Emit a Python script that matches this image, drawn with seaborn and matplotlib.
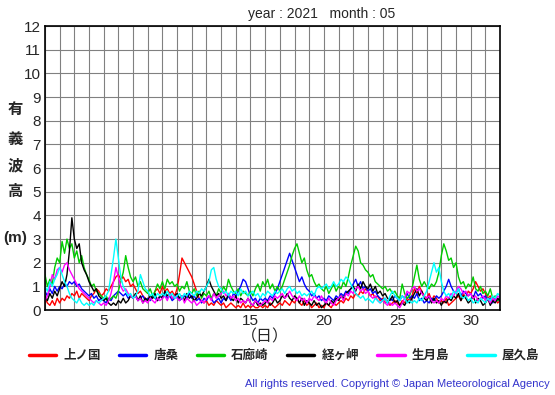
import numpy as np
import pandas as pd
import matplotlib
matplotlib.use('Agg')
import matplotlib.pyplot as plt
from matplotlib.lines import Line2D
import seaborn as sns

# station names and colours
stations = ['上ノ国', '唐桑', '石廊崎', '経ヶ岬', '生月島', '屋久島']
colors = ['#ff0000', '#0000ff', '#00cc00', '#000000', '#ff00ff', '#00ffff']

# significant wave height (m), 4-hourly, one row per day of May 2021
kaminokuni = [
    [0.5, 0.3, 0.2, 0.4, 0.2, 0.5], [0.3, 0.5, 0.4, 0.6, 0.5, 0.7], [0.6, 0.8, 0.5, 0.7, 0.6, 0.5],
    [0.4, 0.6, 0.7, 0.9, 0.8, 0.6], [0.7, 0.9, 0.8, 1.0, 1.2, 1.4], [1.5, 1.3, 1.4, 1.2, 1.3, 1.0],
    [1.1, 0.9, 0.7, 0.8, 0.6, 0.5], [0.4, 0.6, 0.5, 0.8, 0.9, 0.7], [1.0, 0.8, 0.9, 0.7, 0.8, 0.6],
    [0.9, 1.5, 2.2, 2.0, 1.8, 1.6], [1.4, 1.1, 0.8, 0.5, 0.4, 0.3], [0.4, 0.2, 0.3, 0.2, 0.4, 0.3],
    [0.2, 0.3, 0.1, 0.2, 0.3, 0.2], [0.1, 0.2, 0.1, 0.3, 0.1, 0.2], [0.1, 0.2, 0.1, 0.1, 0.2, 0.1],
    [0.2, 0.1, 0.3, 0.2, 0.1, 0.2], [0.3, 0.2, 0.4, 0.3, 0.2, 0.4], [0.3, 0.5, 0.3, 0.2, 0.4, 0.2],
    [0.3, 0.1, 0.2, 0.3, 0.1, 0.2], [0.1, 0.3, 0.2, 0.1, 0.3, 0.2], [0.3, 0.4, 0.3, 0.5, 0.4, 0.6],
    [0.5, 0.7, 0.6, 0.8, 0.7, 0.9], [0.8, 0.6, 0.7, 0.5, 0.6, 0.4], [0.5, 0.3, 0.4, 0.2, 0.3, 0.4],
    [0.3, 0.2, 0.4, 0.3, 0.5, 0.4], [0.6, 0.9, 0.7, 1.0, 0.8, 0.6], [0.5, 0.7, 0.4, 0.6, 0.5, 0.3],
    [0.4, 0.3, 0.5, 0.2, 0.3, 0.4], [0.5, 0.6, 0.4, 0.7, 0.5, 0.8], [0.7, 0.9, 1.2, 1.0, 0.8, 0.9],
    [0.7, 0.5, 0.6, 0.4, 0.5, 0.3], [0.4]]

karakuwa = [
    [0.8, 0.6, 0.9, 0.7, 1.0, 0.8], [1.0, 0.9, 1.1, 1.0, 1.2, 1.1], [1.2, 1.0, 1.1, 0.9, 0.8, 0.7],
    [0.6, 0.7, 0.5, 0.6, 0.4, 0.5], [0.4, 0.3, 0.5, 0.4, 0.6, 0.7], [0.8, 0.7, 0.6, 0.7, 0.5, 0.6],
    [0.5, 0.6, 0.4, 0.5, 0.6, 0.4], [0.5, 0.4, 0.6, 0.5, 0.4, 0.6], [0.5, 0.7, 0.5, 0.6, 0.4, 0.5],
    [0.6, 0.4, 0.5, 0.6, 0.5, 0.7], [0.5, 0.6, 0.4, 0.5, 0.3, 0.5], [0.4, 0.6, 0.5, 0.3, 0.4, 0.5],
    [0.3, 0.5, 0.4, 0.6, 0.4, 0.7], [0.6, 0.8, 1.0, 1.3, 1.2, 0.9], [0.6, 0.4, 0.5, 0.3, 0.5, 0.4],
    [0.5, 0.4, 0.6, 0.5, 0.7, 0.9], [1.2, 1.5, 1.8, 2.1, 2.4, 2.1], [1.8, 1.5, 1.2, 1.4, 1.1, 0.9],
    [0.8, 0.6, 0.7, 0.5, 0.6, 0.4], [0.5, 0.4, 0.6, 0.5, 0.4, 0.6], [0.5, 0.7, 0.6, 0.8, 0.7, 0.9],
    [1.1, 1.3, 1.0, 1.2, 0.9, 1.0], [0.8, 0.9, 0.7, 0.8, 0.6, 0.5], [0.4, 0.5, 0.3, 0.5, 0.4, 0.6],
    [0.5, 0.4, 0.6, 0.5, 0.7, 0.5], [0.6, 0.5, 0.7, 0.4, 0.5, 0.3], [0.4, 0.3, 0.5, 0.4, 0.6, 0.5],
    [0.6, 0.8, 1.0, 1.3, 1.0, 0.8], [0.7, 0.9, 0.6, 0.8, 0.7, 0.6], [0.7, 0.5, 0.8, 0.6, 0.7, 0.5],
    [0.6, 0.4, 0.5, 0.3, 0.5, 0.4], [0.5]]

irozaki = [
    [1.5, 1.0, 1.3, 1.1, 1.8, 2.2], [2.0, 2.9, 2.4, 3.0, 2.6, 2.8], [2.2, 2.5, 2.0, 2.3, 1.8, 1.5],
    [1.3, 1.0, 1.1, 0.8, 0.7, 0.6], [0.5, 0.6, 0.4, 0.5, 0.6, 0.5], [0.8, 1.2, 1.6, 2.3, 1.8, 1.4],
    [1.2, 1.4, 1.0, 1.2, 0.9, 0.8], [0.7, 0.9, 0.6, 0.8, 1.1, 0.9], [1.2, 0.9, 1.3, 1.1, 1.2, 1.0],
    [1.1, 0.8, 1.0, 0.9, 1.2, 0.8], [0.7, 0.9, 0.6, 0.8, 0.5, 0.7], [0.6, 0.8, 0.5, 0.7, 0.6, 0.9],
    [0.7, 1.0, 0.8, 1.3, 1.0, 0.8], [0.7, 0.9, 0.6, 0.8, 0.7, 0.6], [0.8, 0.6, 0.9, 1.1, 0.8, 1.2],
    [1.0, 1.3, 0.9, 1.1, 0.8, 1.0], [0.8, 1.0, 1.3, 1.6, 1.9, 2.3], [2.6, 2.8, 2.4, 2.0, 2.2, 1.7],
    [1.4, 1.5, 1.2, 1.0, 1.1, 0.9], [0.8, 1.0, 0.7, 0.9, 1.1, 0.8], [1.0, 0.9, 1.2, 1.0, 1.4, 1.9],
    [2.3, 2.7, 2.5, 2.0, 1.9, 1.7], [1.6, 1.4, 1.5, 1.2, 1.1, 1.0], [0.9, 1.0, 0.8, 0.9, 0.7, 0.8],
    [0.6, 0.5, 1.1, 0.7, 0.5, 0.6], [0.9, 1.4, 1.9, 1.3, 1.0, 1.2], [1.0, 0.9, 1.1, 1.0, 1.2, 1.6],
    [2.3, 2.8, 2.5, 2.1, 2.2, 1.8], [2.0, 1.4, 1.1, 1.2, 0.9, 1.1], [1.0, 1.4, 0.9, 0.8, 1.0, 0.7],
    [0.8, 0.6, 0.9, 0.5, 0.6, 0.4], [0.5]]

kyogamisaki = [
    [0.6, 0.4, 0.7, 0.5, 0.8, 0.6], [0.9, 1.2, 1.0, 1.5, 2.5, 3.9], [3.0, 2.6, 2.8, 2.0, 1.7, 1.5],
    [1.2, 1.0, 0.8, 0.9, 0.6, 0.5], [0.4, 0.5, 0.3, 0.2, 0.3, 0.2], [0.4, 0.3, 0.5, 0.3, 0.4, 0.6],
    [0.5, 0.7, 0.4, 0.6, 0.3, 0.5], [0.4, 0.6, 0.5, 0.7, 0.4, 0.6], [0.5, 0.8, 0.6, 0.7, 0.5, 0.6],
    [0.7, 0.5, 0.6, 0.4, 0.7, 0.5], [0.6, 0.4, 0.5, 0.7, 0.6, 0.8], [1.0, 1.3, 1.0, 0.8, 0.6, 0.7],
    [0.5, 0.6, 0.4, 0.7, 0.5, 0.4], [0.6, 0.3, 0.5, 0.4, 0.3, 0.5], [0.3, 0.2, 0.4, 0.2, 0.3, 0.2],
    [0.3, 0.4, 0.2, 0.3, 0.5, 0.3], [0.4, 0.6, 0.5, 0.7, 0.5, 0.4], [0.6, 0.5, 0.3, 0.5, 0.2, 0.4],
    [0.3, 0.2, 0.4, 0.2, 0.3, 0.1], [0.2, 0.3, 0.2, 0.4, 0.3, 0.5], [0.4, 0.6, 0.5, 0.7, 0.8, 0.9],
    [1.0, 0.8, 1.1, 0.9, 1.2, 1.0], [0.9, 1.1, 0.8, 1.0, 0.7, 0.8], [0.6, 0.7, 0.5, 0.4, 0.6, 0.3],
    [0.4, 0.2, 0.3, 0.2, 0.4, 0.3], [0.5, 0.7, 0.9, 0.6, 0.8, 0.5], [0.4, 0.6, 0.3, 0.5, 0.3, 0.4],
    [0.2, 0.4, 0.3, 0.5, 0.4, 0.6], [0.5, 0.7, 0.4, 0.6, 0.5, 0.3], [0.4, 0.6, 0.3, 0.5, 0.4, 0.2],
    [0.3, 0.5, 0.2, 0.4, 0.3, 0.5], [0.4]]

ikitsukishima = [
    [0.4, 0.6, 1.0, 1.5, 1.3, 1.7], [1.8, 1.6, 1.9, 2.0, 1.7, 1.5], [1.3, 1.1, 0.9, 0.8, 0.7, 0.6],
    [0.5, 0.4, 0.3, 0.4, 0.3, 0.2], [0.3, 0.2, 0.4, 0.7, 1.2, 1.8], [1.4, 1.0, 0.8, 0.9, 0.7, 0.6],
    [0.5, 0.6, 0.4, 0.5, 0.3, 0.4], [0.3, 0.5, 0.4, 0.3, 0.5, 0.4], [0.5, 0.6, 0.4, 0.7, 0.5, 0.6],
    [0.5, 0.4, 0.6, 0.3, 0.5, 0.4], [0.3, 0.4, 0.2, 0.3, 0.4, 0.3], [0.5, 0.6, 0.4, 0.7, 0.5, 0.6],
    [0.7, 0.8, 0.6, 0.7, 0.5, 0.6], [0.4, 0.5, 0.3, 0.4, 0.3, 0.5], [0.3, 0.2, 0.4, 0.3, 0.2, 0.3],
    [0.4, 0.3, 0.5, 0.4, 0.6, 0.5], [0.6, 0.7, 0.5, 0.6, 0.8, 0.6], [0.5, 0.4, 0.6, 0.4, 0.5, 0.3],
    [0.5, 0.4, 0.6, 0.5, 0.4, 0.6], [0.4, 0.3, 0.5, 0.3, 0.2, 0.4], [0.5, 0.6, 0.4, 0.7, 0.6, 0.8],
    [0.7, 0.9, 1.0, 0.8, 0.9, 0.7], [0.8, 0.6, 0.5, 0.6, 0.4, 0.3], [0.4, 0.3, 0.2, 0.3, 0.2, 0.3],
    [0.2, 0.1, 0.3, 0.5, 0.8, 0.7], [0.9, 1.0, 0.8, 0.9, 0.7, 0.6], [0.5, 0.6, 0.4, 0.3, 0.4, 0.3],
    [0.5, 0.4, 0.6, 0.5, 0.7, 0.6], [0.8, 1.0, 0.9, 0.7, 0.8, 0.6], [0.7, 0.5, 0.6, 0.4, 0.5, 0.6],
    [0.4, 0.5, 0.3, 0.5, 0.4, 0.6], [0.5]]

yakushima = [
    [1.0, 0.8, 1.2, 1.0, 1.3, 1.5], [1.8, 1.5, 1.2, 1.0, 0.7, 0.5], [0.4, 0.3, 0.5, 0.3, 0.2, 0.3],
    [0.2, 0.3, 0.2, 0.4, 0.3, 0.4], [0.5, 0.6, 0.8, 1.5, 2.2, 3.0], [2.2, 1.4, 1.0, 0.8, 0.6, 0.7],
    [0.5, 0.6, 0.8, 1.5, 1.2, 0.9], [0.8, 0.6, 0.7, 0.5, 0.7, 0.6], [0.7, 0.6, 0.8, 0.6, 0.7, 0.5],
    [0.6, 0.7, 0.5, 0.7, 0.6, 0.8], [0.7, 0.6, 0.8, 0.7, 0.9, 0.8], [1.0, 1.2, 1.7, 1.8, 1.3, 1.0],
    [0.9, 0.7, 0.8, 0.6, 0.8, 0.7], [0.8, 0.6, 0.9, 0.7, 0.8, 0.6], [0.7, 0.8, 0.6, 0.7, 0.5, 0.7],
    [0.6, 0.8, 0.7, 0.6, 0.8, 0.7], [0.8, 0.9, 0.7, 0.9, 1.0, 0.8], [0.9, 0.7, 0.8, 0.6, 0.7, 0.6],
    [0.7, 0.8, 0.6, 0.9, 1.0, 0.9], [1.0, 1.1, 0.9, 1.0, 1.2, 1.0], [1.1, 1.3, 1.2, 1.4, 1.3, 1.1],
    [0.9, 0.7, 0.6, 0.5, 0.6, 0.4], [0.5, 0.4, 0.3, 0.5, 0.4, 0.3], [0.4, 0.5, 0.3, 0.6, 0.8, 0.6],
    [0.5, 0.4, 0.6, 0.5, 0.3, 0.4], [0.3, 0.4, 0.3, 0.5, 0.4, 0.6], [0.8, 1.2, 1.6, 2.0, 1.6, 1.8],
    [1.2, 0.8, 0.6, 0.7, 0.5, 0.8], [0.7, 0.9, 0.6, 0.5, 0.6, 0.4], [0.5, 0.3, 0.4, 0.3, 0.5, 0.4],
    [0.3, 0.5, 0.4, 0.6, 0.5, 0.7], [0.6]]

series = [kaminokuni, karakuwa, irozaki, kyogamisaki, ikitsukishima, yakushima]
steps_per_day = 6

# build long-form table
frames = []
for name, rows in zip(stations, series):
    vals = np.concatenate([np.array(r, dtype=float) for r in rows])
    day = 1 + np.arange(len(vals)) / steps_per_day
    frames.append(pd.DataFrame({'day': day, 'height': vals, 'station': name}))
df = pd.concat(frames, ignore_index=True)

sns.set_style('white')
plt.rcParams['font.family'] = ['Liberation Sans', 'Noto Sans CJK JP']

fig = plt.figure(figsize=(5.55, 3.95), dpi=100)
ax = fig.add_axes([0.081, 0.215, 0.820, 0.719])

sns.lineplot(data=df, x='day', y='height', hue='station', hue_order=stations,
             palette=colors, linewidth=1.0, legend=False, ax=ax, estimator=None)

ax.set_xlim(1, 32)
ax.set_ylim(0, 12)
ax.set_xticks(range(1, 33))
ax.set_xticklabels([str(d) if d % 5 == 0 else '' for d in range(1, 33)])
ax.set_yticks(range(0, 13))
ax.grid(True, color='#808080', linewidth=0.8)
ax.set_axisbelow(True)
ax.tick_params(length=0, labelsize=11, pad=3)
for s in ax.spines.values():
    s.set_color('black')
    s.set_linewidth(1.2)
ax.set_xlabel('')
ax.set_ylabel('')

# texts around the plot
fig.text(322 / 555, 1 - 14 / 395, 'year : 2021   month : 05', ha='center', va='center', fontsize=10)
for ch, ypx in zip(['有', '義', '波', '高', '(m)'], [110, 140, 166, 192, 238]):
    fig.text(15 / 555, 1 - ypx / 395, ch, ha='center', va='center', fontsize=11,
             fontweight='bold')
fig.text(265 / 555, 1 - 337 / 395, '（日）', ha='center', va='center', fontsize=11.5)
fig.text(550 / 555, 1 - 384 / 395,
         'All rights reserved. Copyright © Japan Meteorological Agency',
         ha='right', va='center', fontsize=8, color='#3333cc')

handles = [Line2D([0], [0], color=c, linewidth=2.5) for c in colors]
fig.legend(handles, stations, loc='center', bbox_to_anchor=(284 / 555, 1 - 356 / 395),
           ncol=6, frameon=False, handlelength=2.2, handletextpad=0.55,
           columnspacing=1.47, prop={'weight': 'bold', 'size': 9})

fig.savefig('out.png', dpi=100)
